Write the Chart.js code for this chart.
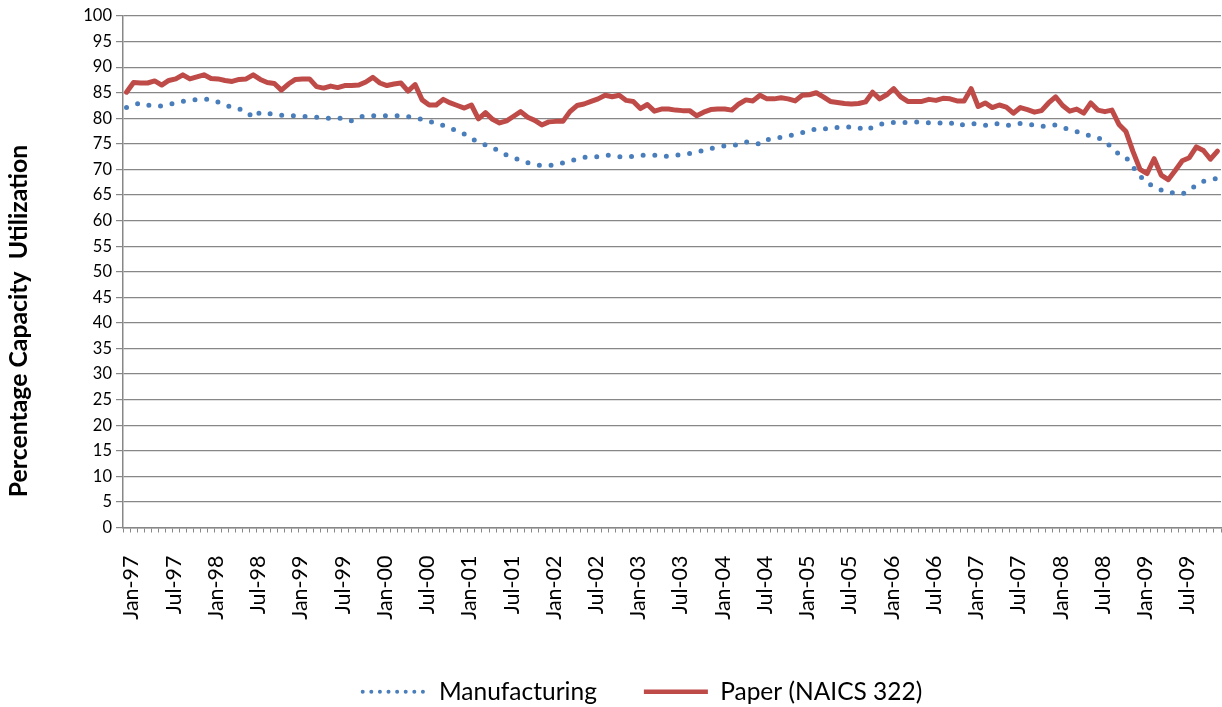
<!DOCTYPE html>
<html>
<head>
<meta charset="utf-8">
<script src="https://cdn.jsdelivr.net/npm/chart.js@4.4.1/dist/chart.umd.min.js"></script>
<style>
  html, body { margin: 0; padding: 0; background: #fff; }
  #wrap { width: 1222px; height: 707px; }
</style>
</head>
<body>
<div id="wrap"><canvas id="chart" width="1222" height="707"></canvas></div>
<script>
const MONTHS = ['Jan', 'Feb', 'Mar', 'Apr', 'May', 'Jun', 'Jul', 'Aug', 'Sep', 'Oct', 'Nov', 'Dec'];
const YEARS = ['97', '98', '99', '00', '01', '02', '03', '04', '05', '06', '07', '08', '09'];

// monthly capacity utilization, Jan-97 .. Dec-09
const manufacturing = [
  82.1, 82.6, 83.0, 82.6, 82.4, 82.4, 82.7, 83.0, 83.3, 83.5, 83.7, 83.7, // 1997
  83.7, 83.2, 82.7, 82.1, 81.8, 81.4, 80.1, 81.2, 81.0, 80.7, 80.6, 80.5, // 1998
  80.5, 80.4, 80.3, 80.2, 80.1, 80.0, 80.0, 80.0, 79.5, 80.2, 80.5, 80.5, // 1999
  80.5, 80.5, 80.5, 80.5, 80.3, 80.1, 79.8, 79.5, 78.9, 78.6, 78.2, 77.4, // 2000
  76.9, 76.0, 75.4, 74.8, 74.3, 73.5, 72.8, 72.3, 71.8, 71.3, 70.9, 70.8, // 2001
  70.8, 70.9, 71.3, 71.6, 72.1, 72.4, 72.4, 72.5, 72.8, 72.7, 72.5, 72.4, // 2002
  72.6, 72.8, 72.8, 72.8, 72.5, 72.6, 72.8, 72.9, 73.1, 73.4, 73.7, 74.1, // 2003
  74.4, 74.6, 74.7, 74.9, 75.4, 75.3, 74.9, 75.8, 76.0, 76.3, 76.6, 76.8, // 2004
  77.2, 77.5, 78.0, 78.0, 77.9, 78.2, 78.3, 78.3, 78.2, 77.6, 78.3, 78.8, // 2005
  79.1, 79.2, 79.1, 79.2, 79.3, 79.2, 79.1, 79.1, 79.1, 79.2, 78.5, 78.8, // 2006
  79.0, 78.8, 78.6, 79.0, 78.9, 78.6, 78.8, 79.0, 78.9, 78.6, 78.4, 78.6, // 2007
  78.7, 78.2, 77.8, 77.4, 76.9, 76.6, 76.2, 75.6, 74.2, 73.0, 72.4, 70.5, // 2008
  68.7, 67.4, 66.6, 66.0, 65.5, 65.4, 65.2, 66.0, 66.9, 67.7, 68.0, 68.3, // 2009
];

const paper = [
  85.1, 87.0, 86.9, 86.9, 87.3, 86.5, 87.4, 87.7, 88.5, 87.7, 88.1, 88.5, // 1997
  87.8, 87.7, 87.4, 87.2, 87.6, 87.7, 88.5, 87.6, 87.0, 86.8, 85.5, 86.7, // 1998
  87.6, 87.7, 87.7, 86.2, 85.9, 86.3, 86.0, 86.4, 86.4, 86.5, 87.1, 88.0, // 1999
  86.9, 86.4, 86.7, 86.9, 85.3, 86.6, 83.6, 82.6, 82.6, 83.7, 83.0, 82.5, // 2000
  82.0, 82.6, 79.9, 81.1, 79.8, 79.1, 79.5, 80.4, 81.3, 80.2, 79.6, 78.7, // 2001
  79.3, 79.4, 79.4, 81.3, 82.5, 82.8, 83.3, 83.8, 84.5, 84.2, 84.5, 83.5, // 2002
  83.3, 81.9, 82.7, 81.4, 81.8, 81.8, 81.6, 81.5, 81.5, 80.5, 81.2, 81.7, // 2003
  81.8, 81.8, 81.6, 82.8, 83.6, 83.4, 84.5, 83.8, 83.8, 84.0, 83.8, 83.4, // 2004
  84.5, 84.6, 85.0, 84.2, 83.3, 83.1, 82.9, 82.8, 82.9, 83.2, 85.1, 83.8, // 2005
  84.6, 85.8, 84.2, 83.3, 83.3, 83.3, 83.7, 83.5, 83.9, 83.8, 83.4, 83.4, // 2006
  85.8, 82.3, 83.0, 82.1, 82.6, 82.2, 81.0, 82.1, 81.7, 81.2, 81.5, 83.0, // 2007
  84.2, 82.5, 81.4, 81.8, 81.0, 83.0, 81.6, 81.3, 81.6, 78.8, 77.4, 73.5, // 2008
  70.0, 69.2, 72.1, 68.9, 68.0, 69.8, 71.7, 72.3, 74.4, 73.7, 72.0, 73.6, // 2009
];

const categories = [];
YEARS.forEach(y => MONTHS.forEach(m => categories.push(m + '-' + y)));

const Y_TITLE = 'Percentage Capacity  Utilization';
const FONT = 'Lato';
const GRID = '#878787';

// y axis title sits lower than the plot centre in the original, so draw it by hand
const yTitlePlugin = {
  id: 'yTitle',
  afterLayout(chart) {
    // legend block in the original is a bit right of centre
    chart.legend.left += 32;
    chart.legend.right += 32;
  },
  afterDraw(chart) {
    const ctx = chart.ctx;
    ctx.save();
    ctx.font = 'bold 20px ' + FONT;
    const w = ctx.measureText(Y_TITLE).width;
    const size = 20 * 352 / w;
    ctx.font = 'bold ' + size.toFixed(1) + 'px ' + FONT;
    ctx.translate(19, 321);
    ctx.rotate(-Math.PI / 2);
    ctx.textAlign = 'center';
    ctx.textBaseline = 'middle';
    ctx.fillStyle = '#000';
    ctx.fillText(Y_TITLE, 0, 0);
    ctx.restore();
  }
};

const legendDash = [[0, 8.6], []];

new Chart(document.getElementById('chart'), {
  type: 'line',
  data: {
    labels: categories,
    datasets: [
      {
        label: 'Manufacturing',
        data: manufacturing,
        borderColor: '#4a7ebb',
        borderWidth: 5,
        borderDash: [0, 11.7],
        borderCapStyle: 'round',
        borderJoinStyle: 'round',
        pointRadius: 0,
        fill: false,
        tension: 0,
      },
      {
        label: 'Paper (NAICS 322)',
        data: paper,
        borderColor: '#be4b48',
        borderWidth: 5,
        borderCapStyle: 'round',
        borderJoinStyle: 'round',
        pointRadius: 0,
        fill: false,
        tension: 0,
      },
    ],
  },
  options: {
    responsive: false,
    animation: false,
    layout: { padding: { top: 16, right: 1, bottom: -7, left: 0 } },
    plugins: {
      legend: {
        position: 'bottom',
        labels: {
          usePointStyle: true,
          pointStyle: 'line',
          pointStyleWidth: 64,
          padding: 47,
          color: '#000',
          font: { family: FONT, size: 24.5 },
          generateLabels: chart => chart.data.datasets.map((ds, i) => ({
            text: ds.label,
            datasetIndex: i,
            strokeStyle: ds.borderColor,
            fillStyle: ds.borderColor,
            lineWidth: i === 0 ? 4 : 4.5,
            lineDash: legendDash[i],
            lineCap: i === 0 ? 'round' : 'butt',
            pointStyle: 'line',
            fontColor: '#000',
            hidden: false,
          })),
        },
      },
      tooltip: { enabled: false },
    },
    scales: {
      x: {
        offset: true,
        grid: { drawOnChartArea: false, offset: true, tickLength: 5, color: GRID, tickColor: GRID },
        border: { color: GRID, width: 1.5 },
        ticks: {
          autoSkip: false,
          minRotation: 90,
          maxRotation: 90,
          padding: 23,
          labelOffset: 5,
          color: '#000',
          font: { family: FONT, size: 21.5 },
          callback: (v, i) => (i % 6 === 0 ? categories[i] : ''),
        },
        afterFit: s => { s.height = 105; s.paddingLeft = 0; s.paddingRight = 0; },
      },
      y: {
        min: 0,
        max: 100,
        grid: { color: GRID, tickLength: 7, lineWidth: 1.2 },
        border: { color: GRID, width: 1.5 },
        ticks: {
          stepSize: 5,
          padding: 4,
          color: '#000',
          font: { family: FONT, size: 16.5 },
        },
        afterFit: s => { s.width = 123; s.paddingTop = 0; s.paddingBottom = 0; },
      },
    },
  },
  plugins: [yTitlePlugin],
});
</script>
</body>
</html>
